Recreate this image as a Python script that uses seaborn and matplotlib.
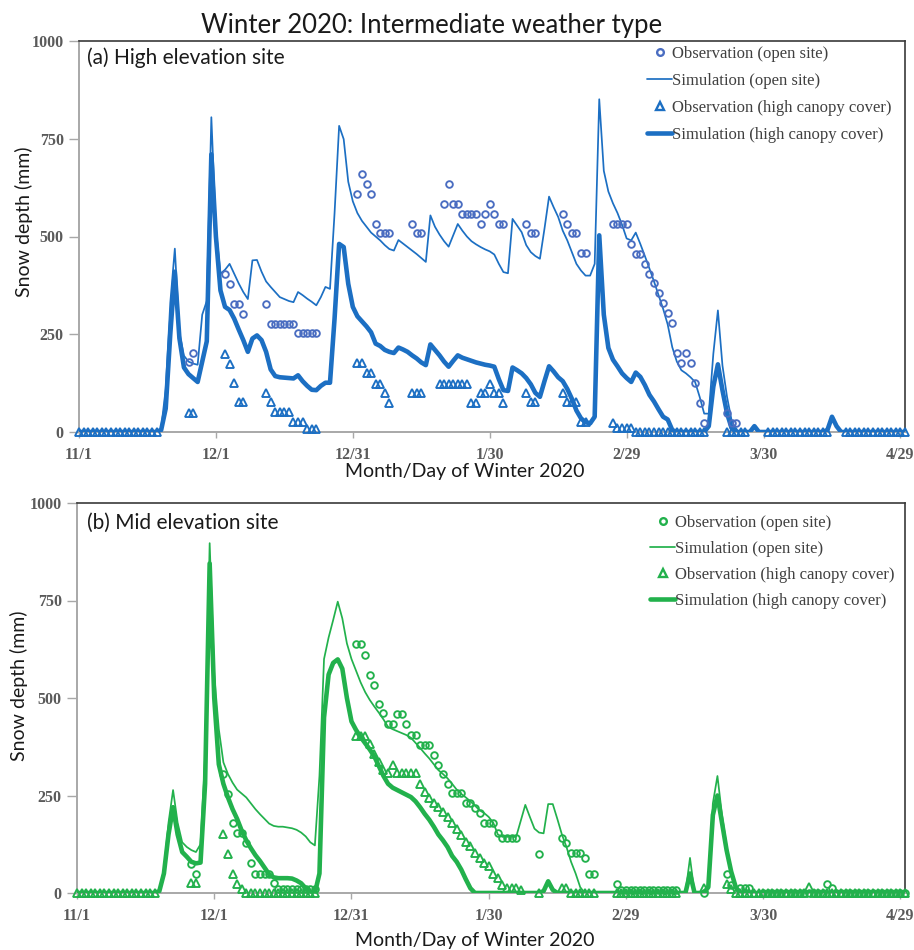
import numpy as np
import pandas as pd
import matplotlib
matplotlib.use("Agg")
import matplotlib.pyplot as plt
from matplotlib.lines import Line2D
import seaborn as sns

sns.set_theme(style="ticks")
plt.rcParams["font.family"] = ["Lato", "DejaVu Sans"]

# Day 0 = 11/1 (2019); one value per day through 4/30 (2020)
tick_days = [0, 30, 60, 90, 120, 150, 180]
tick_labels = ["11/1", "12/1", "12/31", "1/30", "2/29", "3/30", "4/29"]
y_ticks = [0, 250, 500, 750, 1000]

legend_labels = ["Observation (open site)", "Simulation (open site)",
                 "Observation (high canopy cover)", "Simulation (high canopy cover)"]

# ---------------- (a) High elevation site ----------------
high_sim_open = [
    0, 0, 0, 0, 0, 0, 0, 0, 0, 0,
    0, 0, 0, 0, 0, 0, 0, 0, 10, 110,
    330, 469, 255, 195, 180, 175, 172, 300, 335, 805,
    520, 405, 415, 430, 405, 380, 358, 340, 439, 440,
    410, 385, 371, 358, 345, 340, 335, 332, 358, 350,
    341, 333, 324, 345, 371, 366, 560, 783, 749, 640,
    590, 560, 540, 525, 510, 500, 490, 478, 468, 464,
    491, 482, 473, 464, 455, 445, 435, 554, 525, 505,
    488, 474, 503, 532, 515, 500, 488, 480, 473, 467,
    462, 454, 430, 409, 406, 545, 528, 511, 478, 460,
    450, 443, 520, 602, 575, 550, 515, 490, 460, 430,
    413, 400, 400, 430, 851, 668, 615, 585, 560, 530,
    495, 490, 510, 481, 450, 418, 385, 350, 315, 275,
    217, 180, 158, 150, 140, 128, 90, 47, 47, 200,
    311, 170, 90, 30, 5, 0, 0, 0, 15, 0,
    0, 0, 0, 0, 0, 0, 0, 0, 0, 0,
    0, 0, 0, 0, 5, 39, 15, 0, 0, 0,
    0, 0, 0, 0, 0, 0, 0, 0, 0, 0,
    0, 0,
]
high_sim_canopy = [
    0, 0, 0, 0, 0, 0, 0, 0, 0, 0,
    0, 0, 0, 0, 0, 0, 0, 0, 5, 60,
    250, 410, 240, 165, 148, 138, 128, 180, 232, 710,
    500, 362, 320, 312, 290, 262, 235, 205, 239, 247,
    235, 205, 160, 143, 140, 139, 138, 137, 145, 130,
    118, 108, 107, 118, 126, 126, 290, 481, 473, 379,
    320, 296, 283, 270, 255, 226, 220, 210, 205, 202,
    216, 211, 205, 196, 188, 178, 171, 224, 210, 196,
    180, 167, 182, 196, 190, 186, 182, 178, 175, 172,
    170, 167, 135, 107, 105, 165, 158, 150, 138, 122,
    100, 90, 130, 168, 155, 140, 130, 110, 85, 55,
    35, 25, 22, 39, 503, 300, 215, 185, 168, 150,
    138, 128, 152, 141, 120, 95, 78, 58, 39, 32,
    5, 0, 0, 0, 0, 0, 0, 0, 15, 116,
    173, 107, 48, 10, 0, 0, 0, 0, 15, 0,
    0, 0, 0, 0, 0, 0, 0, 0, 0, 0,
    0, 0, 0, 0, 5, 39, 15, 0, 0, 0,
    0, 0, 0, 0, 0, 0, 0, 0, 0, 0,
    0, 0,
]
high_obs_open_day = [
    24, 25,
    32, 33, 34, 35, 36,
    41, 42, 43, 44, 45, 46, 47, 48, 49, 50, 51, 52,
    61, 62, 63, 64, 65, 66, 67, 68,
    73, 74, 75,
    80, 81, 82, 83, 84, 85, 86, 87, 88, 89, 90, 91, 92, 93,
    98, 99, 100,
    106, 107, 108, 109, 110, 111,
    117, 118, 119, 120, 121, 122, 123, 124, 125, 126, 127,
    128, 129, 130, 131, 132, 133, 134, 135, 136, 137,
    142, 143, 144,
]
high_obs_open_mm = [
    178, 202,
    405, 379, 328, 328, 303,
    328, 277, 277, 277, 277, 277, 277, 253, 253, 253, 253, 253,
    609, 660, 634, 609, 532, 508, 508, 508,
    532, 508, 508,
    583, 634, 583, 583, 558, 558, 558, 558, 532, 558, 583, 558, 532, 532,
    532, 508, 508,
    558, 532, 508, 508, 457, 457,
    532, 532, 532, 532, 481, 456, 456, 430, 405, 381, 356,
    331, 305, 280, 202, 177, 202, 177, 126, 75, 24,
    49, 24, 24,
]
high_obs_canopy_day = [
    0, 1, 2, 3, 4, 5, 6, 7, 8, 9, 10, 11, 12, 13, 14, 15, 16, 17,
    24, 25,
    32, 33, 34, 35, 36,
    41, 42, 43, 44, 45, 46, 47, 48, 49, 50, 51, 52,
    61, 62, 63, 64, 65, 66, 67, 68,
    73, 74, 75,
    79, 80, 81, 82, 83, 84, 85, 86, 87, 88, 89, 90, 91, 92, 93,
    98, 99, 100,
    106, 107, 108, 109, 110, 111,
    117, 118, 119, 120, 121, 122, 123, 124, 125, 126, 127, 128, 129,
    130, 131, 132, 133, 134, 135, 136, 137,
    142, 143, 144, 145, 146,
    151, 152, 153, 154, 155, 156, 157, 158, 159, 160, 161, 162, 163, 164,
    168, 169, 170, 171, 172, 173, 174, 175, 176, 177, 178, 179, 180, 181,
]
high_obs_canopy_mm = [
    0, 0, 0, 0, 0, 0, 0, 0, 0, 0, 0, 0, 0, 0, 0, 0, 0, 0,
    48, 48,
    200, 175, 126, 77, 77,
    100, 77, 52, 52, 52, 52, 26, 26, 26, 8, 8, 8,
    177, 177, 151, 151, 124, 124, 99, 73,
    100, 100, 100,
    124, 124, 124, 124, 124, 124, 124, 75, 75, 99, 99, 124, 99, 99, 75,
    100, 77, 77,
    100, 77, 77, 77, 25, 25,
    24, 9, 9, 9, 9, 0, 0, 0, 0, 0, 0, 0, 0,
    0, 0, 0, 0, 0, 0, 0, 0,
    0, 0, 0, 0, 0,
    0, 0, 0, 0, 0, 0, 0, 0, 0, 0, 0, 0, 0, 0,
    0, 0, 0, 0, 0, 0, 0, 0, 0, 0, 0, 0, 0, 0,
]

# ---------------- (b) Mid elevation site ----------------
mid_sim_open = [
    0, 0, 0, 0, 0, 0, 0, 0, 0, 0,
    0, 0, 0, 0, 0, 0, 0, 0, 5, 60,
    180, 264, 180, 130, 118, 110, 105, 125, 350, 897,
    560, 420, 335, 305, 283, 265, 255, 245, 230, 215,
    202, 190, 178, 172, 170, 170, 168, 166, 162, 155,
    145, 130, 122, 300, 600, 655, 700, 747, 704, 640,
    600, 570, 540, 515, 495, 478, 462, 445, 426, 420,
    415, 410, 405, 398, 385, 372, 358, 345, 330, 315,
    305, 294, 280, 265, 254, 245, 235, 224, 212, 205,
    195, 180, 150, 144, 144, 144, 144, 185, 226, 195,
    165, 155, 153, 228, 228, 190, 150, 118, 80, 50,
    15, 0, 0, 0, 0, 0, 0, 0, 0, 0,
    0, 0, 0, 0, 0, 0, 0, 0, 0, 0,
    0, 0, 0, 0, 90, 0, 0, 0, 20, 230,
    300, 200, 120, 60, 15, 0, 0, 0, 0, 0,
    0, 0, 0, 0, 0, 0, 0, 0, 0, 0,
    0, 0, 0, 0, 0, 0, 0, 0, 0, 0,
    0, 0, 0, 0, 0, 0, 0, 0, 0, 0,
    0, 0,
]
mid_sim_canopy = [
    0, 0, 0, 0, 0, 0, 0, 0, 0, 0,
    0, 0, 0, 0, 0, 0, 0, 0, 5, 50,
    150, 220, 150, 105, 93, 80, 76, 78, 280, 845,
    500, 330, 280, 245, 215, 190, 160, 135, 115, 97,
    82, 65, 48, 40, 38, 38, 38, 37, 32, 25,
    12, 2, 0, 50, 450, 560, 590, 599, 575, 500,
    440, 418, 400, 384, 368, 350, 325, 300, 280, 270,
    264, 258, 252, 246, 235, 220, 203, 188, 170, 150,
    135, 118, 95, 80, 60, 35, 12, 0, 0, 0,
    0, 0, 0, 0, 0, 0, 0, 0, 0, 0,
    0, 0, 5, 30, 8, 0, 0, 0, 0, 0,
    0, 0, 0, 0, 0, 0, 0, 0, 0, 0,
    0, 0, 0, 0, 0, 0, 0, 0, 0, 0,
    0, 0, 0, 0, 50, 0, 0, 0, 15, 200,
    250, 180, 110, 55, 15, 0, 0, 0, 0, 0,
    0, 0, 0, 0, 0, 0, 0, 0, 0, 0,
    0, 0, 0, 0, 0, 0, 0, 0, 0, 0,
    0, 0, 0, 0, 0, 0, 0, 0, 0, 0,
    0, 0,
]
mid_obs_open_day = [
    25, 26,
    32, 33, 34, 35, 36, 37, 38, 39, 40, 41, 42, 43,
    44, 45, 46, 47, 48, 49, 50, 51, 52,
    61, 62, 63, 64, 65, 66, 67, 68, 69, 70, 71, 72, 73, 74, 75, 76, 77, 78,
    79, 80, 81, 82, 83, 84, 85, 86, 87, 88, 89, 90, 91, 92, 93, 94, 95, 96,
    101,
    106, 107, 108, 109, 110, 111, 112, 113,
    118, 119, 120, 121, 122, 123, 124, 125, 126, 127, 128, 129, 130, 131,
    137,
    142, 143,
    145, 146, 147,
    150, 151, 152, 153, 154, 155, 156, 157, 158, 159, 160, 161, 162, 163,
    164, 165,
    166, 167, 168, 169, 170, 171, 172, 173, 174, 175, 176, 177, 178, 179, 180, 181,
]
mid_obs_open_mm = [
    75, 50,
    305, 253, 180, 153, 153, 127, 77, 50, 50, 50, 50, 25,
    10, 10, 10, 10, 10, 10, 10, 10, 10,
    638, 638, 610, 559, 533, 485, 461, 433, 433, 459, 459, 433, 405, 405, 379, 379, 379, 354,
    328, 305, 279, 256, 256, 256, 230, 230, 217, 204, 179, 179, 179, 153, 140, 140, 140, 140,
    100,
    140, 127, 102, 102, 102, 89, 50, 50,
    24, 8, 8, 8, 8, 8, 8, 8, 8, 8, 8, 8, 8, 8,
    0,
    49, 20,
    12, 12, 12,
    0, 0, 0, 0, 0, 0, 0, 0, 0, 0, 0, 0, 0, 0,
    24, 12,
    0, 0, 0, 0, 0, 0, 0, 0, 0, 0, 0, 0, 0, 0, 0, 0,
]
mid_obs_canopy_day = [
    0, 1, 2, 3, 4, 5, 6, 7, 8, 9, 10, 11, 12, 13, 14, 15, 16, 17,
    25, 26,
    32, 33, 34, 35, 36,
    37, 38, 39, 40, 41, 42, 43, 44, 45, 46, 47, 48, 49, 50, 51, 52,
    61, 62, 63, 64, 65, 66, 67, 68, 69, 70, 71, 72, 73, 74, 75, 76, 77, 78, 79,
    80, 81, 82, 83, 84, 85, 86, 87, 88, 89, 90, 91, 92, 93, 94, 95, 96, 97,
    101,
    106, 107, 108, 109, 110, 111, 112, 113,
    118, 119, 120, 121, 122, 123, 124, 125, 126, 127, 128, 129, 130, 131,
    137,
    142, 143,
    144, 145, 146, 147, 148, 149, 150, 151, 152, 153, 154, 155, 156, 157, 158, 159,
    160,
    161, 162, 163, 164, 165, 166, 167, 168, 169, 170, 171, 172, 173, 174, 175,
    176, 177, 178, 179, 180, 181,
]
mid_obs_canopy_mm = [
    0, 0, 0, 0, 0, 0, 0, 0, 0, 0, 0, 0, 0, 0, 0, 0, 0, 0,
    25, 25,
    152, 100, 49, 24, 10,
    0, 0, 0, 0, 0, 0, 0, 0, 0, 0, 0, 0, 0, 0, 0, 0,
    403, 403, 403, 382, 356, 335, 315, 307, 328, 307, 307, 307, 307, 307, 280, 260, 244, 232, 220,
    208, 196, 180, 163, 149, 130, 120, 102, 89, 78, 68, 50, 38, 21, 12, 12, 12, 8,
    0,
    12, 12, 0, 0, 0, 0, 0, 0,
    0, 0, 0, 0, 0, 0, 0, 0, 0, 0, 0, 0, 0, 0,
    12,
    24, 10,
    0, 0, 0, 0, 0, 0, 0, 0, 0, 0, 0, 0, 0, 0, 0, 0,
    15,
    0, 0, 0, 0, 0, 0, 0, 0, 0, 0, 0, 0, 0, 0, 0,
    0, 0, 0, 0, 0, 0,
]

BLUE_LINE = "#1c6fc3"
BLUE_CIRCLE = "#4a6dc1"
GREEN = "#22b14c"

TICK_FONT = {"family": "Liberation Serif", "weight": "bold", "size": 11.5}
TICK_COLOR = "#5a5a5a"
LABEL_FONT = ["Lato", "DejaVu Sans"]

W, H = 914, 950
fig = plt.figure(figsize=(W / 100, H / 100), dpi=100)


def axes_px(left, top, right, bottom):
    return fig.add_axes([left / W, 1 - bottom / H, (right - left) / W, (bottom - top) / H])


def draw_panel(ax, sim_open, sim_canopy, oo_day, oo_mm, oc_day, oc_mm,
               line_c, circ_c, legend_xy, legend_gap):
    days = np.arange(len(sim_open))
    sims = pd.DataFrame({"day": days, "open": sim_open, "canopy": sim_canopy})
    sns.lineplot(data=sims, x="day", y="open", ax=ax, color=line_c, lw=1.25,
                 estimator=None, zorder=2)
    sns.lineplot(data=sims, x="day", y="canopy", ax=ax, color=line_c, lw=3.3,
                 estimator=None, zorder=3)
    obs_open = pd.DataFrame({"day": oo_day, "mm": oo_mm})
    obs_can = pd.DataFrame({"day": oc_day, "mm": oc_mm})
    sns.lineplot(data=obs_open, x="day", y="mm", ax=ax, estimator=None,
                 marker="o", linestyle="", markersize=4.8, markerfacecolor="none",
                 markeredgecolor=circ_c, markeredgewidth=1.35, color=circ_c,
                 zorder=4, clip_on=False)
    sns.lineplot(data=obs_can, x="day", y="mm", ax=ax, estimator=None,
                 marker="^", linestyle="", markersize=6.2, markerfacecolor="none",
                 markeredgecolor=line_c, markeredgewidth=1.35, color=line_c,
                 zorder=5, clip_on=False)

    ax.set_xlim(0, 181)
    ax.set_ylim(0, 1000)
    ax.set_xticks(tick_days)
    ax.set_xticklabels(tick_labels)
    ax.set_yticks(y_ticks)
    ax.set_yticklabels([str(v) for v in y_ticks])
    for lab in ax.get_xticklabels() + ax.get_yticklabels():
        lab.set_fontfamily(TICK_FONT["family"])
        lab.set_fontweight(TICK_FONT["weight"])
        lab.set_fontsize(TICK_FONT["size"])
        lab.set_color(TICK_COLOR)
    ax.tick_params(axis="y", length=7, width=1.0, color="#a8a8a8", pad=4)
    ax.tick_params(axis="x", length=4, width=1.0, color="#a8a8a8", pad=7)
    ax.set_xlabel("")
    ax.set_ylabel("")
    for side in ("left", "bottom"):
        ax.spines[side].set_color("#a8a8a8")
        ax.spines[side].set_linewidth(1.4)
    for side in ("top", "right"):
        ax.spines[side].set_visible(True)
        ax.spines[side].set_color("#3a3a3a")
        ax.spines[side].set_linewidth(1.2)

    handles = [
        Line2D([], [], color=circ_c, marker="o", ls="", ms=4.8, mfc="none", mew=1.7),
        Line2D([], [], color=line_c, lw=1.25),
        Line2D([], [], color=line_c, marker="^", ls="", ms=6.2, mfc="none", mew=1.7),
        Line2D([], [], color=line_c, lw=3.3),
    ]
    ax.legend(handles, legend_labels, loc="upper left",
              bbox_to_anchor=(legend_xy[0] / W, 1 - legend_xy[1] / H),
              bbox_transform=fig.transFigure, frameon=False,
              prop={"family": "Liberation Serif", "size": 12},
              labelcolor="#404040", handlelength=1.5, handletextpad=0.0,
              labelspacing=legend_gap, borderpad=0, borderaxespad=0)


ax_a = axes_px(79, 41, 905, 432)
ax_b = axes_px(77, 503, 905, 893)

draw_panel(ax_a, high_sim_open, high_sim_canopy, high_obs_open_day, high_obs_open_mm,
           high_obs_canopy_day, high_obs_canopy_mm, BLUE_LINE, BLUE_CIRCLE, (647, 46), 0.66)
draw_panel(ax_b, mid_sim_open, mid_sim_canopy, mid_obs_open_day, mid_obs_open_mm,
           mid_obs_canopy_day, mid_obs_canopy_mm, GREEN, GREEN, (650, 515), 0.6)

fig.text(432 / W, 1 - 33 / H, "Winter 2020: Intermediate weather type",
         ha="center", va="baseline", fontsize=18.5, family=LABEL_FONT, color="#1a1a1a")
fig.text(87 / W, 1 - 64 / H, "(a) High elevation site", ha="left", va="baseline",
         fontsize=15, family=LABEL_FONT, color="#1a1a1a")
fig.text(87 / W, 1 - 529 / H, "(b) Mid elevation site", ha="left", va="baseline",
         fontsize=15, family=LABEL_FONT, color="#1a1a1a")
fig.text(24 / W, 1 - 222 / H, "Snow depth (mm)", rotation=90, ha="center", va="center",
         fontsize=14, family=LABEL_FONT, color="#1a1a1a")
fig.text(19 / W, 1 - 686 / H, "Snow depth (mm)", rotation=90, ha="center", va="center",
         fontsize=14, family=LABEL_FONT, color="#1a1a1a")
fig.text(465 / W, 1 - 477 / H, "Month/Day of Winter 2020", ha="center", va="baseline",
         fontsize=14, family=LABEL_FONT, color="#1a1a1a")
fig.text(475 / W, 1 - 946 / H, "Month/Day of Winter 2020", ha="center", va="baseline",
         fontsize=14, family=LABEL_FONT, color="#1a1a1a")

fig.savefig("out.png", dpi=100, facecolor="white")
